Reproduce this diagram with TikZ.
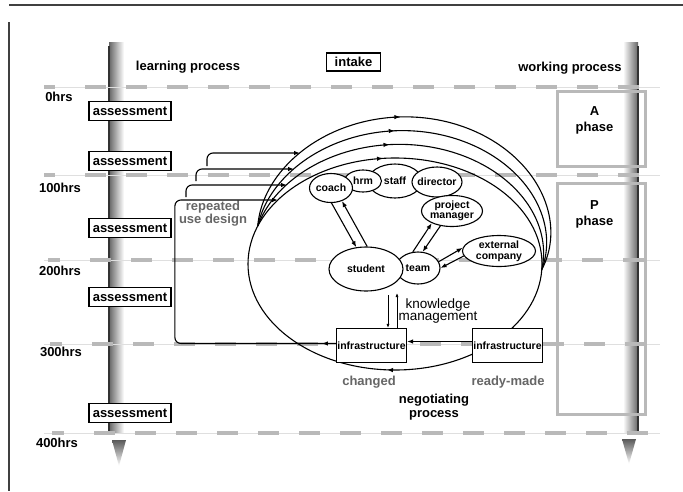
\documentclass[tikz,border=0pt]{standalone}
\usepackage{fontspec}
\setmainfont{Liberation Sans}
\usetikzlibrary{shapes, arrows.meta, positioning, decorations.markings}

\begin{document}
\begin{tikzpicture}[x=1pt, y=-1pt,
    lbl/.style={font=\fontsize{13}{14}\selectfont\bfseries},
    assess/.style={draw, line width=1.4pt, fill=white, font=\fontsize{13}{14}\selectfont\bfseries, minimum width=82pt, minimum height=19pt, inner sep=0pt},
    hrs/.style={gray!55, line width=4pt, dash pattern=on 21pt off 20pt},
    hrsthin/.style={gray!25, line width=0.6pt},
    phase/.style={draw=gray!55, line width=3pt, minimum width=88pt, inner sep=0pt},
    role/.style={ellipse, draw, line width=1.1pt, fill=white, inner xsep=-4pt, inner ysep=0pt, align=center, font=\fontsize{10.5}{9.5}\selectfont\bfseries},
    infra/.style={draw, line width=1.2pt, fill=white, minimum width=70pt, minimum height=34pt, inner sep=0pt, font=\fontsize{10.5}{12}\selectfont\bfseries},
    faded/.style={text=black!60, font=\fontsize{13}{10}\selectfont\bfseries, align=center},
    flow/.style={line width=1.1pt},
    arr/.style={-{Latex[length=6pt, width=4.5pt]}},
    midtip/.style={postaction={decorate, decoration={markings, mark=at position #1 with {\arrow{Latex[length=6pt, width=4.5pt]}}}}},
  ]
    \useasboundingbox (0, 0) rectangle (683, 491);
    \fill[white] (0, 0) rectangle (683, 491);

    % frame
    \draw[black!75, line width=1.5pt] (9, 5) -- (683, 5);
    \draw[black!75, line width=1.5pt] (9, 22) -- (9, 491);

    % time bars
    \shade[left color=black!60, right color=white] (109, 42) rectangle (124, 432);
    \draw[black!80, line width=1.6pt] (108.8, 46) -- (108.8, 432);
    \shade[top color=black!65, bottom color=white] (112, 440) -- (126, 440) -- (119, 466) -- cycle;
    \shade[left color=white, right color=black!60] (623, 42) rectangle (638, 432);
    \draw[black!80, line width=1.6pt] (638.2, 46) -- (638.2, 432);
    \shade[top color=black!65, bottom color=white] (622, 439) -- (636, 439) -- (629, 464) -- cycle;

    % hour lines
    \draw[hrsthin] (44, 87) -- (660, 87);
    \draw[hrsthin] (44, 175) -- (660, 175);
    \draw[hrsthin] (44, 260) -- (660, 260);
    \draw[hrsthin] (44, 344) -- (660, 344);
    \draw[hrsthin] (44, 433) -- (660, 433);
    \draw[hrs] (44, 87) -- (55, 87) (85, 87) -- (650, 87);
    \draw[hrs] (44, 175) -- (55, 175) (85, 175) -- (650, 175);
    \draw[hrs] (48, 260) -- (60, 260) (90, 260) -- (650, 260);
    \draw[hrs] (50, 344) -- (62, 344) (92, 344) -- (650, 344);
    \draw[hrs] (52, 433) -- (64, 433) (94, 433) -- (650, 433);
    \node[lbl] (h0) at (59, 97){0hrs};
    \node[lbl] (h100) at (60, 188){100hrs};
    \node[lbl] (h200) at (60, 271){200hrs};
    \node[lbl] (h300) at (61, 352){300hrs};
    \node[lbl] (h400) at (57, 443){400hrs};

    \node[lbl] (learn) at (188, 67){learning process};
    \node[lbl] (work) at (570, 68){working process};
    \node[draw, line width=1.4pt, lbl, minimum width=54pt, minimum height=18pt, inner sep=0pt] (intake) at (353.5, 62){intake};

    \node[assess] (as1) at (130, 111){assessment};
    \node[assess] (as2) at (130, 161){assessment};
    \node[assess] (as3) at (130, 228){assessment};
    \node[assess] (as4) at (130, 297){assessment};
    \node[assess] (as5) at (130, 413){assessment};

    \node[phase, minimum height=75pt] (aphase) at (601.5, 129){};
    \node[lbl, align=center, font=\fontsize{13}{16}\selectfont\bfseries] (atext) at ([xshift=-7pt, yshift=-30pt]aphase.north){A\\phase};
    \node[phase, minimum height=231pt] (pphase) at (601.5, 299){};
    \node[lbl, align=center, font=\fontsize{13}{16}\selectfont\bfseries] (ptext) at ([xshift=-7pt, yshift=-32pt]pphase.north){P\\phase};

    % cycles
    \draw[flow, midtip=0.26, midtip=0.735] (395, 264) ellipse [x radius=147, y radius=106];
    \draw[flow, midtip=0.44] plot[domain=201:363, samples=80, smooth] ({395+147*cos(\x)+42*sin((\x-201)*1.1111)*cos(\x)}, {264+106*sin(\x)+42*sin((\x-201)*1.1111)*sin(\x)});
    \draw[flow, midtip=0.43] plot[domain=201:363, samples=80, smooth] ({395+147*cos(\x)+28*sin((\x-201)*1.1111)*cos(\x)}, {264+106*sin(\x)+28*sin((\x-201)*1.1111)*sin(\x)});
    \draw[flow, midtip=0.42] plot[domain=201:363, samples=80, smooth] ({395+147*cos(\x)+14*sin((\x-201)*1.1111)*cos(\x)}, {264+106*sin(\x)+14*sin((\x-201)*1.1111)*sin(\x)});

    \coordinate (in1) at (300, 153);
    \coordinate (in2) at (294, 169);
    \coordinate (in3) at (287, 185);
    \coordinate (in4) at (278, 200);
    \coordinate (c1) at (207, 166);
    \coordinate (c2) at (196, 181);
    \coordinate (c3) at (186, 197);
    \draw[flow, arr, rounded corners=6pt] (c1) |- (in1);
    \draw[flow, arr, rounded corners=6pt] (c2) |- (in2);
    \draw[flow, arr, rounded corners=6pt] (c3) |- (in3);
    \node[faded] (rud) at (213, 214){repeated\\use design};

    % roles
    \node[role, minimum width=54pt, minimum height=34pt] (staff) at (395, 181){staff};
    \node[role, minimum width=37pt, minimum height=22pt] (hrm) at (363, 181){hrm};
    \node[role, minimum width=43pt, minimum height=29pt] (coach) at (331, 188){coach};
    \node[role, minimum width=50pt, minimum height=30pt] (director) at (437, 182){director};
    \node[role, minimum width=61pt, minimum height=31pt] (pm) at (452, 211){project\\manager};
    \node[role, minimum width=73pt, minimum height=31pt, font=\fontsize{10.5}{11}\selectfont\bfseries] (ext) at (499, 251){external\\company};
    \node[role, minimum width=44pt, minimum height=32pt] (team) at (418, 268){team};
    \node[role, minimum width=74pt, minimum height=44pt] (student) at (366, 269){student};

    \draw[line width=1.1pt, arr] (coach.-88) -- (student.114);
    \draw[line width=1.1pt, arr] (student.87) -- (coach.-50);
    \draw[line width=1.1pt, arr] (team.108) -- (pm.-149);
    \draw[line width=1.1pt, arr] (pm.-128) -- (team.74);
    \draw[line width=1.1pt, arr] (team.17) -- (ext.175);
    \draw[line width=1.1pt, arr] (ext.-172) -- (team.0);

    % infrastructure
    \node[infra] (infraC) at (371.5, 345.5){infrastructure};
    \node[infra] (infraR) at (507.5, 345.5){infrastructure};
    \draw[flow, arr] ([yshift=4pt]infraR.west) -- ([yshift=4pt]infraC.east);
    \draw[flow, arr, rounded corners=6pt, midtip=14pt] ([yshift=2pt]infraC.west) -- ++(-161, 0) |- (in4);

    \coordinate (kdown) at (388, 295);
    \coordinate (kup) at (397, 293);
    \draw[line width=0.7pt, -{Latex[length=4pt, width=3pt]}] (kdown) -- (kdown |- infraC.north);
    \draw[line width=0.7pt, -{Latex[length=4pt, width=3pt]}] (kup |- infraC.north) -- (kup);
    \node[font=\fontsize{13.5}{8}\selectfont, align=center] (km) at (438, 311){knowledge\\management};

    \node[faded] (chg) at (369, 382){changed};
    \node[faded] (rdy) at (508, 382){ready-made};
    \node[lbl, align=center] (neg) at (434, 407){negotiating\\process};
\end{tikzpicture}
\end{document}
